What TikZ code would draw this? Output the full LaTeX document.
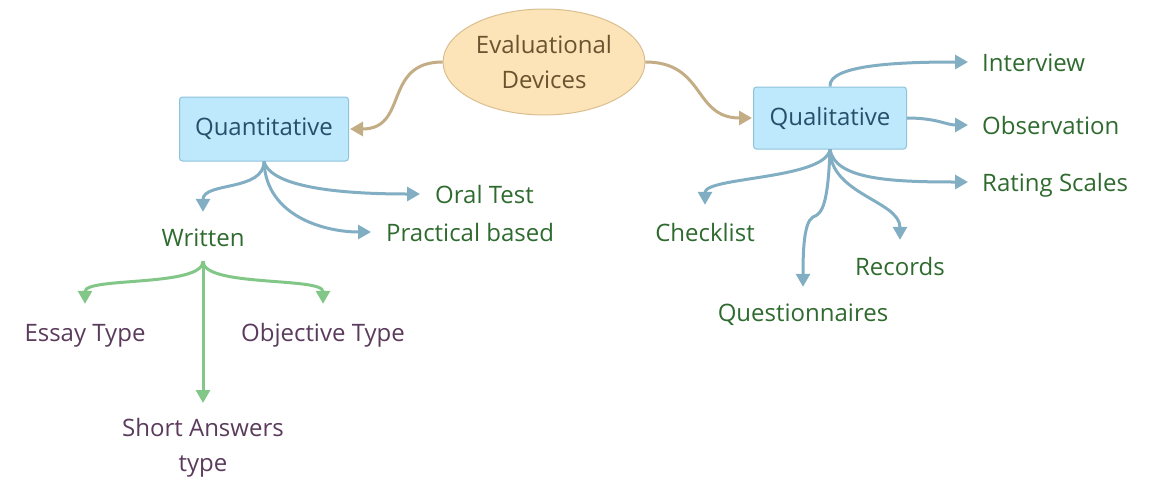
\documentclass[tikz,border=0pt]{standalone}
\usepackage{fontspec}
\setmainfont{Open Sans}
\usetikzlibrary{arrows.meta,shapes.geometric}
\definecolor{rootfill}{HTML}{FCE4B8}
\definecolor{rootline}{HTML}{D9BF90}
\definecolor{roottext}{HTML}{6A5430}
\definecolor{rootarrow}{HTML}{C3AD85}
\definecolor{boxfill}{HTML}{BEE8FC}
\definecolor{boxline}{HTML}{8FC3DA}
\definecolor{boxtext}{HTML}{25506A}
\definecolor{bluearrow}{HTML}{82AEC3}
\definecolor{leafgreen}{HTML}{2F6B2F}
\definecolor{greenarrow}{HTML}{82C787}
\definecolor{subpurple}{HTML}{5A3B5C}

\begin{document}
\begin{tikzpicture}[x=1pt, y=-1pt,
      every node/.style={font=\fontsize{24}{35}\selectfont},
      rootnode/.style={ellipse, draw=rootline, fill=rootfill, text=roottext,
        line width=1pt, minimum width=199pt, minimum height=106pt, align=center},
      catbox/.style={rectangle, rounded corners=3pt, draw=boxline, fill=boxfill,
        text=boxtext, line width=1pt},
      leaf/.style={text=leafgreen, inner sep=1pt, text height=18pt, text depth=0pt},
      subleaf/.style={text=subpurple, inner sep=1pt, text height=18pt, text depth=0pt},
      tanlink/.style={draw=rootarrow, line width=3pt, -{Triangle[length=13pt,width=14pt]}},
      bluelink/.style={draw=bluearrow, line width=3pt, -{Triangle[length=13pt,width=14pt]}},
      greenlink/.style={draw=greenarrow, line width=3pt, -{Triangle[length=13pt,width=14pt]}}]
    \useasboundingbox (0,0) rectangle (1157,496);
    \node[rootnode] (root) at (544,62) {Evaluational\\Devices};
    \node[catbox, minimum width=169pt, minimum height=64pt] (quant) at (264,129) {Quantitative};
    \node[catbox, minimum width=153pt, minimum height=62pt] (qual) at (830,118) {Qualitative};
    \draw[tanlink, shorten >=1pt] (root.west) .. controls +(-60,0) and +(60,0) .. (quant.east);
    \draw[tanlink, shorten >=1pt] (root.east) .. controls +(60,0) and +(-60,0) .. (qual.west);

    \node[leaf] (written) at (203,237) {Written};
    \node[leaf, anchor=west] (oral) at (434,194) {Oral Test};
    \node[leaf, anchor=west] (prac) at (385,232) {Practical based};
    \draw[bluelink, shorten >=15pt] (quant.south) .. controls +(0,30) and +(0,-45) .. (written.north);
    \draw[bluelink, shorten >=14pt] (quant.south) .. controls +(8,30) and +(-70,0) .. (oral.west);
    \draw[bluelink, shorten >=14pt] (quant.south) .. controls +(2,55) and +(-60,0) .. (prac.west);

    \node[subleaf] (essay) at (85,332) {Essay Type};
    \node[subleaf] (objective) at (323,332) {Objective Type};
    \node[text=subpurple, align=center, anchor=north, inner sep=1pt] (short) at (203,417) {Short Answers\\type};
    \draw[greenlink, shorten <=14pt, shorten >=18pt] (written.south) .. controls +(0,40) and +(0,-45) .. (essay.north);
    \draw[greenlink, shorten <=14pt, shorten >=18pt] (written.south) .. controls +(0,40) and +(0,-45) .. (objective.north);
    \draw[greenlink, shorten <=14pt, shorten >=14pt] (written.south) -- (short.north);

    \node[leaf, anchor=west] (interview) at (981,62) {Interview};
    \node[leaf, anchor=west] (observ) at (981,125) {Observation};
    \node[leaf, anchor=west] (rating) at (981,182) {Rating Scales};
    \node[leaf] (check) at (705,232) {Checklist};
    \node[leaf] (records) at (900,266) {Records};
    \node[leaf] (quest) at (803,312) {Questionnaires};
    \draw[bluelink, shorten >=13pt] (qual.north) .. controls +(-2,-22) and +(-80,0) .. (interview.west);
    \draw[bluelink, shorten >=13pt] (qual.east) .. controls +(30,0) and +(-35,0) .. (observ.west);
    \draw[bluelink, shorten >=13pt] (qual.south) .. controls +(5,30) and +(-90,0) .. (rating.west);
    \draw[bluelink, shorten >=17pt] (qual.south) .. controls +(-5,30) and +(0,-45) .. (check.north);
    \draw[bluelink, shorten >=16pt] (qual.south) .. controls +(0,45) and +(0,-55) .. (records.north);
    \draw[bluelink, shorten >=15pt] (qual.south) .. controls (828,205) and (822,214) .. (813,217)
      .. controls (804,222) and (803,250) .. (quest.north);
  \end{tikzpicture}
\end{document}
